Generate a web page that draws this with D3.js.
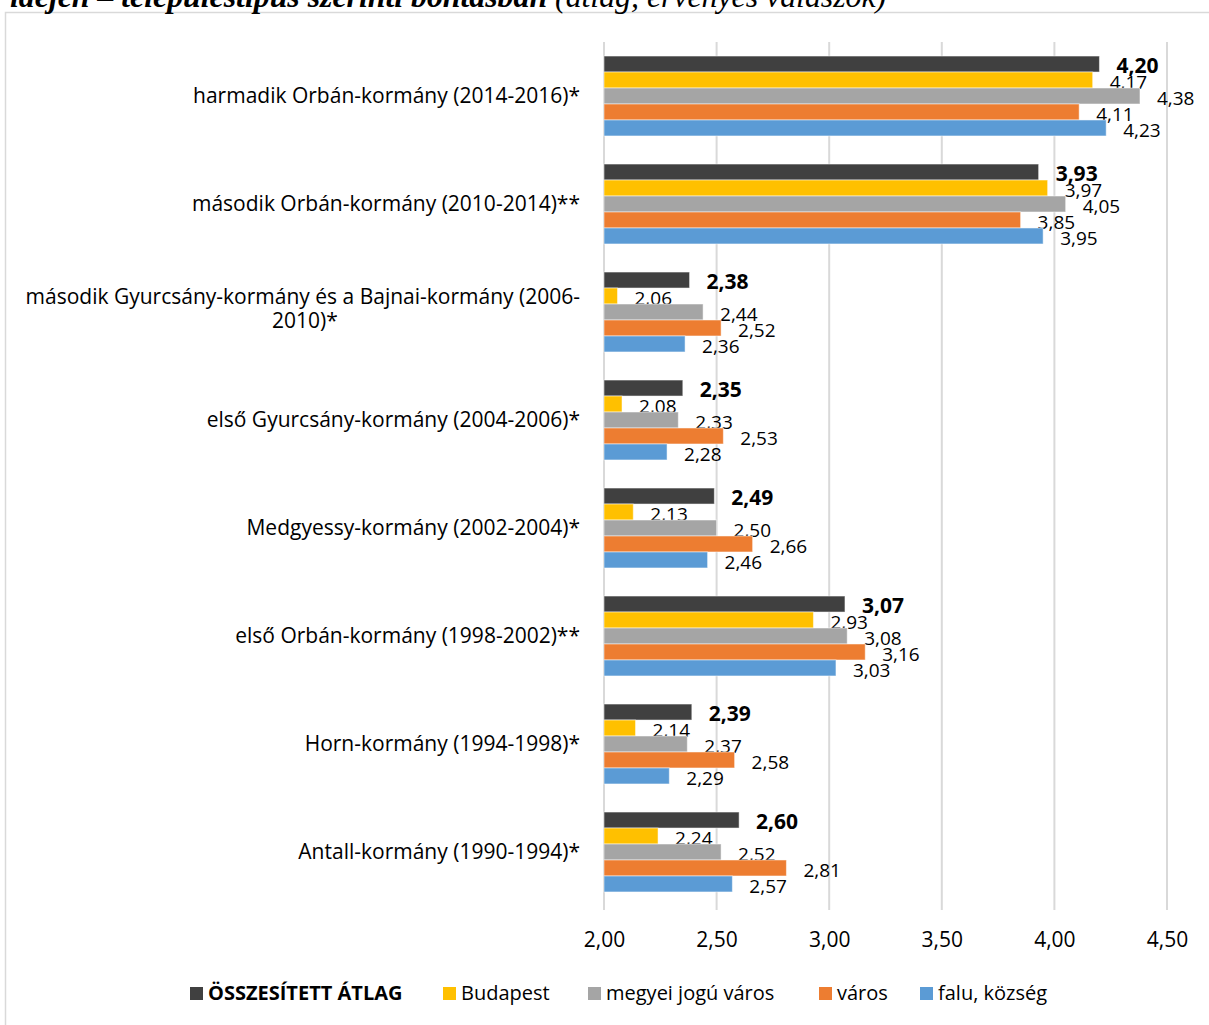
<!DOCTYPE html>
<html><head><meta charset="utf-8">
<script src="https://cdn.jsdelivr.net/npm/d3@7"></script>
<style>
body{margin:0;background:#fff;}
svg{display:block;font-family:"Open Sans",sans-serif;}
</style></head><body>
<svg id="c" width="1209" height="1025"></svg>
<script>
const categories = [
  "harmadik Orbán-kormány (2014-2016)*",
  "második Orbán-kormány (2010-2014)**",
  "második Gyurcsány-kormány és a Bajnai-kormány (2006-|2010)*",
  "első Gyurcsány-kormány (2004-2006)*",
  "Medgyessy-kormány (2002-2004)*",
  "első Orbán-kormány (1998-2002)**",
  "Horn-kormány (1994-1998)*",
  "Antall-kormány (1990-1994)*"
];
const seriesNames = ["ÖSSZESÍTETT ÁTLAG","Budapest","megyei jogú város","város","falu, község"];
const seriesColors = ["#404040","#FFC000","#A5A5A5","#ED7D31","#5B9BD5"];
const osszesitett = [4.20,3.93,2.38,2.35,2.49,3.07,2.39,2.60];
const budapest    = [4.17,3.97,2.06,2.08,2.13,2.93,2.14,2.24];
const megyei      = [4.38,4.05,2.44,2.33,2.50,3.08,2.37,2.52];
const varos       = [4.11,3.85,2.52,2.53,2.66,3.16,2.58,2.81];
const falu        = [4.23,3.95,2.36,2.28,2.46,3.03,2.29,2.57];
const tickValues  = [2.0,2.5,3.0,3.5,4.0,4.5];
const titleText = "idején – településtípus szerinti bontásban";
const titleSub = " (átlag, érvényes válaszok)";

const series = [osszesitett,budapest,megyei,varos,falu];
const fmt = v => d3.format(".2f")(v).replace(".", ",");

const svg = d3.select("#c");
// frame
svg.append("rect").attr("x",5.5).attr("y",12.5).attr("width",1220).attr("height",1030)
  .attr("fill","none").attr("stroke","#d9d9d9").attr("stroke-width",1.5);
// title (cut off)
const t = svg.append("text").attr("x",10).attr("y",7)
  .attr("font-family","'Liberation Serif',serif").attr("font-size",31.8).attr("font-style","italic");
t.append("tspan").attr("font-weight","bold").text(titleText);
t.append("tspan").text(titleSub);

const x = d3.scaleLinear().domain([2,4.5]).range([604,1167]);
const y0 = d3.scaleBand().domain(d3.range(categories.length)).range([42,906]).paddingInner(0.26).paddingOuter(0.13);
const y1 = d3.scaleBand().domain(d3.range(series.length)).range([0,y0.bandwidth()]);

// gridlines
svg.append("g").selectAll("line").data(tickValues).join("line")
  .attr("x1",d=>x(d)).attr("x2",d=>x(d)).attr("y1",42).attr("y2",910)
  .attr("stroke","#d9d9d9").attr("stroke-width",2);

// x axis labels
const ax = svg.append("g").attr("transform","translate(0,940)")
  .call(d3.axisBottom(x).tickValues(tickValues).tickFormat(fmt).tickSize(0).tickPadding(0));
ax.select(".domain").remove();
ax.selectAll("text").attr("font-size",21).attr("fill","#000").attr("font-family","'Open Sans',sans-serif").attr("dy","0.32em");

// bars
const groups = svg.append("g").selectAll("g").data(categories).join("g")
  .attr("transform",(d,i)=>`translate(0,${y0(i)})`);
groups.each(function(cat,ci){
  const g = d3.select(this);
  series.forEach((s,si)=>{
    g.append("rect").attr("x",x(2)).attr("y",y1(si)).attr("width",x(s[ci])-x(2)).attr("height",y1.bandwidth())
      .attr("fill",seriesColors[si]).attr("stroke","#fff").attr("stroke-opacity",0.5).attr("stroke-width",1);
    g.append("text").attr("x",x(s[ci])+ (si===0?17:17)).attr("y",y1(si)+y1.bandwidth()/2+2)
      .attr("dy","0.35em").attr("font-size",si===0?21:19).attr("font-weight",si===0?"bold":"normal")
      .attr("fill","#000").text(fmt(s[ci]));
  });
  // category label
  const lines = cat.split("|");
  const cy = y0.bandwidth()/2;
  if(lines.length===1){
    g.append("text").attr("x",580).attr("y",cy+7).attr("text-anchor","end")
      .attr("font-size",21).text(lines[0]);
  } else {
    g.append("text").attr("x",580).attr("y",cy-8).attr("text-anchor","end")
      .attr("font-size",21).text(lines[0]);
    g.append("text").attr("x",305).attr("y",cy+16).attr("text-anchor","middle")
      .attr("font-size",21).text(lines[1]);
  }
});

// legend
const legX = [190,443,588,819,920];
const leg = svg.append("g").attr("transform","translate(0,993)");
seriesNames.forEach((n,i)=>{
  leg.append("rect").attr("x",legX[i]).attr("y",-6).attr("width",13).attr("height",13).attr("fill",seriesColors[i]);
  leg.append("text").attr("x",legX[i]+18).attr("y",0).attr("dy","0.35em").attr("font-size",20)
    .attr("font-weight",i===0?"bold":"normal").text(n);
});
</script>
</body></html>
